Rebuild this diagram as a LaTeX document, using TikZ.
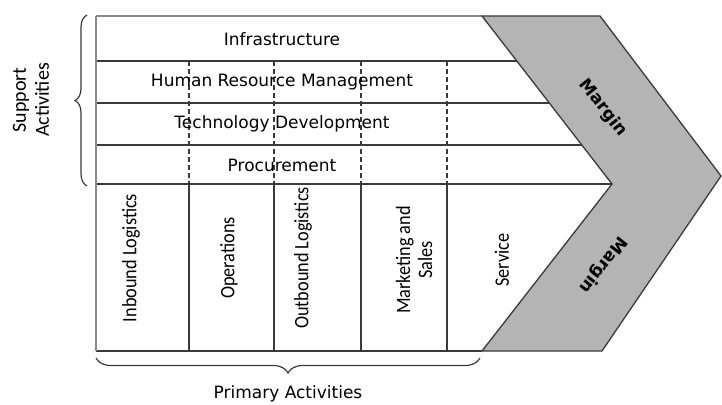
\documentclass[tikz,border=0pt]{standalone}
\usepackage{fontspec}
\setmainfont{DejaVu Sans}
\newfontfamily\carlfont{Carlito}
\newfontfamily\carlcond[FakeStretch=0.89]{Carlito}
\newfontfamily\margfont{DejaVu Sans Bold}
\usetikzlibrary{decorations.pathreplacing}
\definecolor{ln}{HTML}{3A3A3A}
\definecolor{lnl}{HTML}{8A8A8A}
\definecolor{chev}{HTML}{B4B4B4}
\begin{document}
\begin{tikzpicture}[x=1pt,y=-1pt,
  frame/.style={draw=ln, line width=1.3pt},
  lframe/.style={draw=lnl, line width=1.4pt},
  dashv/.style={draw=ln, line width=1.1pt, dash pattern=on 5pt off 3pt},
  supp/.style={font=\fontsize{17}{20}\selectfont, inner sep=0pt},
  prim/.style={font=\carlcond\fontsize{20.5}{22}\selectfont, rotate=90, inner sep=0pt, align=center},
  side/.style={font=\carlfont\fontsize{20}{23}\selectfont, rotate=90, inner sep=0pt, align=center},
  marg/.style={font=\margfont\fontsize{17}{18}\selectfont, inner sep=0pt},
  brc/.style={draw=ln, line width=1.2pt, decorate, decoration={brace, amplitude=#1}}]
\useasboundingbox (0,0) rectangle (722,404);
% frame coordinates
\coordinate (tl) at (96,16);
\coordinate (bl) at (96,351);
\coordinate (tr) at (482,16);
\coordinate (br) at (482,351);
% support rows
\foreach \y in {61,103,145,184} \draw[frame] (96,\y) -- (620,\y);
\draw[lframe] (tl) -- (tr);
\draw[frame] (bl) -- (br);
\draw[lframe] (tl) -- (bl);
% column dividers
\foreach \x in {189,274,361,447} {
  \draw[dashv] (\x,61) -- (\x,184);
  \draw[frame] (\x,184) -- (\x,351);
}
% chevron
\draw[frame, fill=chev] (tr) -- (600,16) -- (721,176) -- (602,351) -- (br) -- (612,184) -- cycle;
% support labels
\node[supp] (infra) at (282,39) {Infrastructure};
\node[supp] (hrm) at (282,82) {Human Resource Management};
\node[supp] (tech) at (282,124) {Technology Development};
\node[supp] (proc) at (282,165) {Procurement};
% primary labels
\node[prim] (inb) at (131,258) {Inbound Logistics};
\node[prim] (ops) at (229,258) {Operations};
\node[prim] (outb) at (303,258) {Outbound Logistics};
\node[prim] (mkt) at (414,260) {Marketing and\\Sales};
\node[prim] (serv) at (502,260) {Service};
% margins
\node[marg, rotate=-52] (m1) at (603,108) {Margin};
\node[marg, rotate=232] (m2) at (603,265) {Margin};
% braces
\coordinate (lb1) at (87,186);
\coordinate (lb2) at (87,15);
\draw[brc=12] (lb1) -- (lb2);
\coordinate (bb1) at (480,358);
\coordinate (bb2) at (96,358);
\draw[brc=15] (bb1) -- (bb2);
\node[side] (sa) at (31,100) {Support\\Activities};
\node[supp] (pa) at (288,394) {Primary Activities};
\end{tikzpicture}
\end{document}
